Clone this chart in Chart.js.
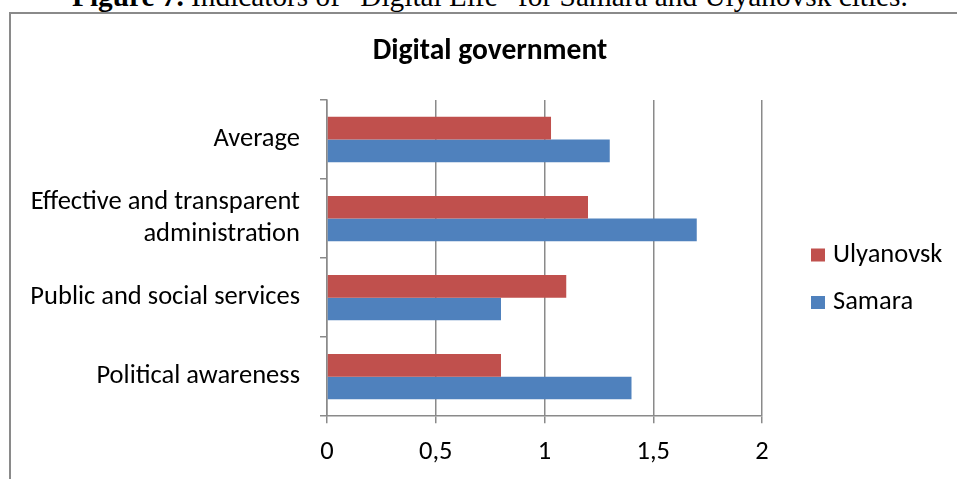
<!DOCTYPE html>
<html>
<head>
<meta charset="utf-8">
<script src="https://cdn.jsdelivr.net/npm/chart.js@4/dist/chart.umd.min.js"></script>
<style>
  html, body { margin: 0; padding: 0; background: #fff; overflow: hidden; }
  #caption {
    position: absolute; left: 72px; top: -18px;
    font: 29.3px/29.3px "Liberation Serif", "Times New Roman", serif;
    white-space: nowrap; color: #000;
  }
  #frame {
    position: absolute; left: 9px; top: 12px; width: 980px; height: 500px;
    border: 2px solid #8a8a8a; box-sizing: border-box;
  }
  #wrap { position: absolute; left: 0; top: 0; width: 957px; height: 479px; }
</style>
</head>
<body>
<div id="caption"><b>Figure 7.</b> Indicators of “Digital Life” for Samara and Ulyanovsk cities.</div>
<div id="frame"></div>
<div id="wrap"><canvas id="bar-chart" width="957" height="479"></canvas></div>
<script>
// -- THE DATA --
const chartTitle = 'Digital government';
const categories = ['Average', ['Effective and transparent', 'administration'], 'Public and social services', 'Political awareness'];
const ulyanovsk = [1.03, 1.2, 1.1, 0.8];
const samara = [1.3, 1.7, 0.8, 1.4];
const xTickLabels = ['0', '0,5', '1', '1,5', '2'];

const FONT = 'Carlito, Calibri, Lato, sans-serif';

// title centred on the whole frame and legend at the right of the plot
const officeDecor = {
  id: 'officeDecor',
  afterDraw(chart) {
    const { ctx, chartArea } = chart;
    ctx.save();
    ctx.fillStyle = '#000';
    ctx.textAlign = 'center';
    ctx.textBaseline = 'middle';
    ctx.font = 'bold 29.5px ' + FONT;
    ctx.fillText(chartTitle, 490, 52);

    ctx.textAlign = 'left';
    ctx.font = '26.5px ' + FONT;
    chart.data.datasets.forEach((ds, i) => {
      const y = 255 + i * 47.5;
      ctx.fillStyle = ds.backgroundColor;
      ctx.fillRect(chartArea.right + 49, y - 6.5, 14, 13);
      ctx.fillStyle = '#000';
      ctx.fillText(ds.label, chartArea.right + 71, y);
    });
    ctx.restore();
  }
};

// -- THE CHART --
const ctx = document.getElementById('bar-chart').getContext('2d');
new Chart(ctx, {
  type: 'bar',
  data: {
    labels: categories,
    datasets: [
      { label: 'Ulyanovsk', data: ulyanovsk, backgroundColor: '#C0504D', borderWidth: 0 },
      { label: 'Samara', data: samara, backgroundColor: '#4F81BD', borderWidth: 0 }
    ]
  },
  options: {
    indexAxis: 'y',
    responsive: false,
    animation: false,
    barPercentage: 1,
    categoryPercentage: 0.574,
    layout: { padding: { left: 10, right: 195, top: 100, bottom: -2 } },
    plugins: {
      legend: { display: false },
      tooltip: { enabled: false },
      title: { display: false }
    },
    scales: {
      x: {
        min: 0, max: 2,
        ticks: {
          stepSize: 0.5,
          color: '#000',
          font: { family: FONT, size: 26.5 },
          padding: 13,
          callback: (v, i) => xTickLabels[i]
        },
        grid: { color: '#8a8a8a', lineWidth: 1.5, tickLength: 7 },
        border: { color: '#8a8a8a', width: 1.5 }
      },
      y: {
        afterFit(scale) { scale.width = 317; },
        ticks: {
          color: '#000',
          font: { family: FONT, size: 26.5 },
          padding: 20
        },
        grid: { drawOnChartArea: false, color: '#8a8a8a', lineWidth: 1.5, tickLength: 7 },
        border: { color: '#8a8a8a', width: 1.5 }
      }
    }
  },
  plugins: [officeDecor]
});
</script>
</body>
</html>
